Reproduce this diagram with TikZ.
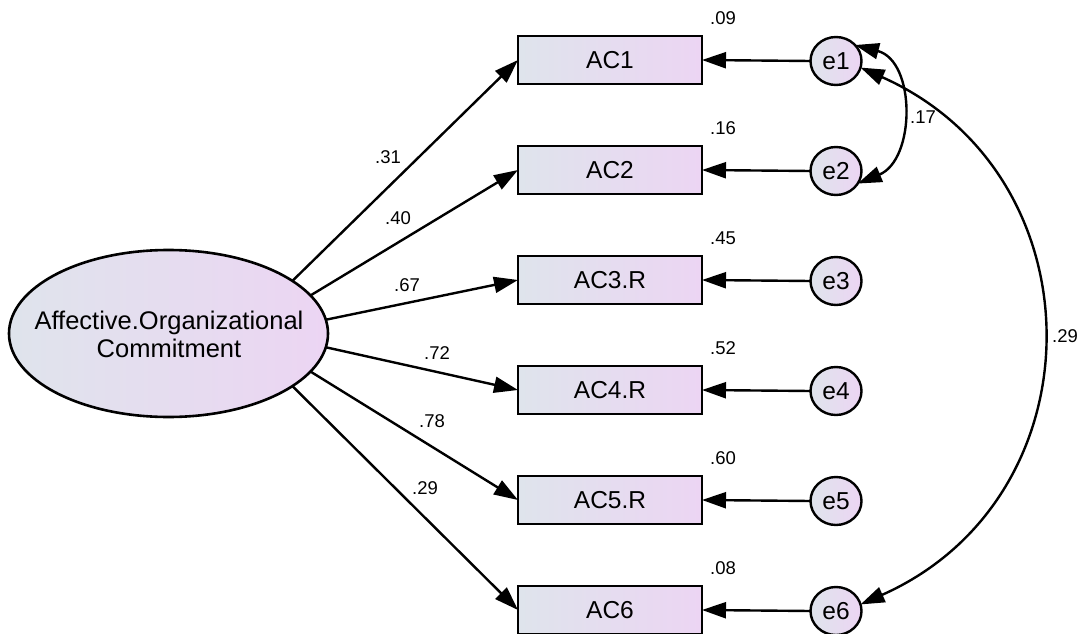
\documentclass[tikz,border=0pt]{standalone}
\usepackage{fontspec}
\setmainfont{Liberation Sans}
\usetikzlibrary{arrows.meta,shapes.geometric}

\definecolor{shadeL}{RGB}{223,228,236}
\definecolor{shadeR}{RGB}{236,213,243}

\begin{document}
\begin{tikzpicture}[x=1pt,y=-1pt,
  every node/.style={inner sep=0pt, outer sep=0pt},
  fillgrad/.style={left color=shadeL, right color=shadeR},
  obs/.style={draw, line width=2.6pt, rectangle, fillgrad,
    minimum width=184pt, minimum height=48pt,
    font=\fontsize{24.5}{28}\selectfont},
  err/.style={draw, line width=2.4pt, ellipse, fillgrad,
    minimum width=51pt, minimum height=48pt,
    font=\fontsize{24.5}{28}\selectfont},
  latent/.style={draw, line width=2.6pt, ellipse, fillgrad,
    minimum width=319pt, minimum height=167pt},
  num/.style={font=\fontsize{18.5}{20}\selectfont},
  path/.style={line width=2.4pt, -{Triangle[length=24pt,width=16pt]}},
  cov/.style={line width=2.4pt,
    {Triangle[length=24pt,width=16pt]}-{Triangle[length=24pt,width=16pt]}}
]
\useasboundingbox (0,0) rectangle (1079,634);

% latent factor
\node[latent] (F) at (168.5,333.5) {};
\node[align=center, font=\fontsize{25.5}{28}\selectfont] (Ftext) at (169,334)
  {Affective.Organizational\\Commitment};

% indicators and their error terms
\foreach \i/\name in {1/AC1,2/AC2,3/AC3.R,4/AC4.R,5/AC5.R,6/AC6}{
  \node[obs] (AC\i) at (610,{60+110*(\i-1)}) {\name};
  \node[err] (e\i) at (836,{61+110*(\i-1)}) {e\i};
  \draw[path] (e\i.west) -- (AC\i.east);
}

% squared multiple correlations
\foreach \i/\r in {1/.09,2/.16,3/.45,4/.52,5/.60,6/.08}{
  \node[num] (r\i) at ([shift={(21,-18)}]AC\i.north east) {\r};
}

% factor loadings
\draw[path] (F.23)   -- (AC1.west);
\draw[path] (F.15.5) -- (AC2.west);
\draw[path] (F.5.5)  -- (AC3.west);
\draw[path] (F.-5.5) -- (AC4.west);
\draw[path] (F.-15.5)-- (AC5.west);
\draw[path] (F.-23)  -- (AC6.west);

\node[num] (l1) at (388,157) {.31};
\node[num] (l2) at (398,218) {.40};
\node[num] (l3) at (407,285) {.67};
\node[num] (l4) at (437,353) {.72};
\node[num] (l5) at (432,421) {.78};
\node[num] (l6) at (425,488) {.29};

% error covariances
\draw[cov] (e1.40) .. controls +(61,16) and +(58,-24) .. (e2.-30);
\node[num] (c12) at (923,117) {.17};
\draw[cov] (e1.-15) .. controls +(241,107) and +(241,-107) .. (e6.15);
\node[num] (c16) at (1065,336) {.29};
\end{tikzpicture}
\end{document}
